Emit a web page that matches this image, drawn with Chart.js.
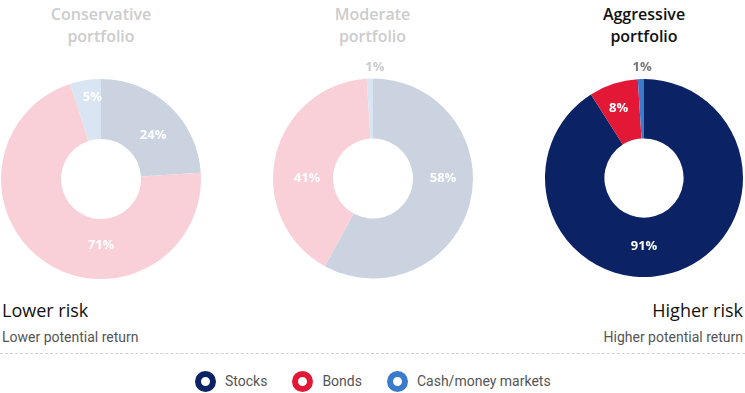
<!DOCTYPE html>
<html>
<head>
<meta charset="utf-8">
<script src="https://cdn.jsdelivr.net/npm/chart.js@4/dist/chart.umd.min.js"></script>
<style>
  html, body { margin: 0; padding: 0; background: #fff; }
  #wrap { position: relative; width: 745px; height: 393px; overflow: hidden; font-family: "Open Sans", sans-serif; }
  .title { position: absolute; top: 3px; width: 200px; text-align: center; font-size: 16px; font-weight: 600; line-height: 22px; }
  .box { position: absolute; }
  .risk { position: absolute; font-family: "Open Sans", sans-serif; font-size: 18px; color: #111; top: 298px; line-height: 24px; }
  .ret { position: absolute; font-family: Roboto, sans-serif; font-size: 14px; color: #555; top: 328px; line-height: 18px; }
  #dash { position: absolute; left: 0; top: 353px; width: 745px; border-top: 1px dashed #d0d0d0; }
  #legend { position: absolute; top: 371px; left: 195px; display: flex; font-family: Roboto, sans-serif; font-size: 14px; color: #555; line-height: 21px; }
  .item { display: flex; align-items: center; margin-right: 25px; }
  .ring { width: 9px; height: 9px; border-radius: 50%; border: 6px solid; margin-right: 9px; box-sizing: content-box; }
</style>
</head>
<body>
<div id="wrap"></div>
<script>
// ---- data ----
const categories = ['Stocks', 'Bonds', 'Cash/money markets'];
const portfolioNames = ['Conservative portfolio', 'Moderate portfolio', 'Aggressive portfolio'];
const conservativeValues = [24, 71, 5];
const moderateValues = [58, 41, 1];
const aggressiveValues = [91, 8, 1];

// ---- styles ----
const activeColors = ['#0b2265', '#e31837', '#3b7bcc'];
const fadedColors = ['#cbd3e0', '#f9d0d8', '#dae5f4'];
const charts = [
  { values: conservativeValues, colors: fadedColors, titleColor: '#cccccc', cx: 101, cy: 179, r: 100,
    labelAt: [[50, 68, '#fff'], [180, 66, '#fff'], [354, 82, '#fff']] },
  { values: moderateValues, colors: fadedColors, titleColor: '#cccccc', cx: 372.5, cy: 178.5, r: 100,
    labelAt: [[90, 70, '#fff'], [270, 66, '#fff'], [1, 111, '#cccccc']] },
  { values: aggressiveValues, colors: activeColors, titleColor: '#111111', cx: 644, cy: 178, r: 99,
    labelAt: [[180, 68, '#fff'], [340, 74, '#fff'], [359, 111, '#777777']] }
];

const wrap = document.getElementById('wrap');

const labelPlugin = {
  id: 'sliceLabels',
  afterDatasetsDraw(chart) {
    const spec = chart.options.plugins.sliceLabels;
    const meta = chart.getDatasetMeta(0);
    const ctx = chart.ctx;
    ctx.save();
    ctx.font = '700 13px "Open Sans", sans-serif';
    ctx.textAlign = 'center';
    ctx.textBaseline = 'middle';
    meta.data.forEach((arc, i) => {
      const [deg, rad, col] = spec.labelAt[i];
      const a = deg * Math.PI / 180;
      const x = arc.x + rad * Math.sin(a);
      const y = arc.y - rad * Math.cos(a);
      ctx.fillStyle = col;
      ctx.fillText(chart.data.datasets[0].data[i] + '%', x, y);
    });
    ctx.restore();
  }
};

charts.forEach((c, idx) => {
  const t = document.createElement('div');
  t.className = 'title';
  t.style.left = (c.cx - 100) + 'px';
  t.style.color = c.titleColor;
  const parts = portfolioNames[idx].split(' ');
  t.innerHTML = parts[0] + '<br>' + parts[1];
  wrap.appendChild(t);

  const W = 220, H = 230, top = 55;
  const box = document.createElement('div');
  box.className = 'box';
  box.style.left = (c.cx - W / 2) + 'px';
  box.style.top = top + 'px';
  box.style.width = W + 'px';
  box.style.height = H + 'px';
  const cv = document.createElement('canvas');
  cv.width = W; cv.height = H;
  cv.style.width = W + 'px'; cv.style.height = H + 'px';
  box.appendChild(cv);
  wrap.appendChild(box);

  const padTop = c.cy - c.r - top;
  const padSide = W / 2 - c.r;
  new Chart(cv, {
    type: 'doughnut',
    data: {
      labels: categories,
      datasets: [{ data: c.values, backgroundColor: c.colors, borderWidth: 0, hoverOffset: 0 }]
    },
    options: {
      responsive: false,
      animation: false,
      cutout: '40%',
      layout: { padding: { top: padTop, bottom: H - padTop - 2 * c.r, left: padSide, right: padSide } },
      plugins: {
        legend: { display: false },
        tooltip: { enabled: false },
        sliceLabels: { labelAt: c.labelAt }
      }
    },
    plugins: [labelPlugin]
  });
});

// bottom texts
function addText(cls, text, side) {
  const d = document.createElement('div');
  d.className = cls;
  d.textContent = text;
  if (side === 'left') d.style.left = '2px'; else d.style.right = '2px';
  wrap.appendChild(d);
}
addText('risk', 'Lower risk', 'left');
addText('ret', 'Lower potential return', 'left');
addText('risk', 'Higher risk', 'right');
addText('ret', 'Higher potential return', 'right');

const dash = document.createElement('div');
dash.id = 'dash';
wrap.appendChild(dash);

const legend = document.createElement('div');
legend.id = 'legend';
categories.forEach((name, i) => {
  const it = document.createElement('div');
  it.className = 'item';
  const ring = document.createElement('span');
  ring.className = 'ring';
  ring.style.borderColor = activeColors[i];
  const lbl = document.createElement('span');
  lbl.textContent = name;
  it.appendChild(ring);
  it.appendChild(lbl);
  legend.appendChild(it);
});
wrap.appendChild(legend);
</script>
</body>
</html>
